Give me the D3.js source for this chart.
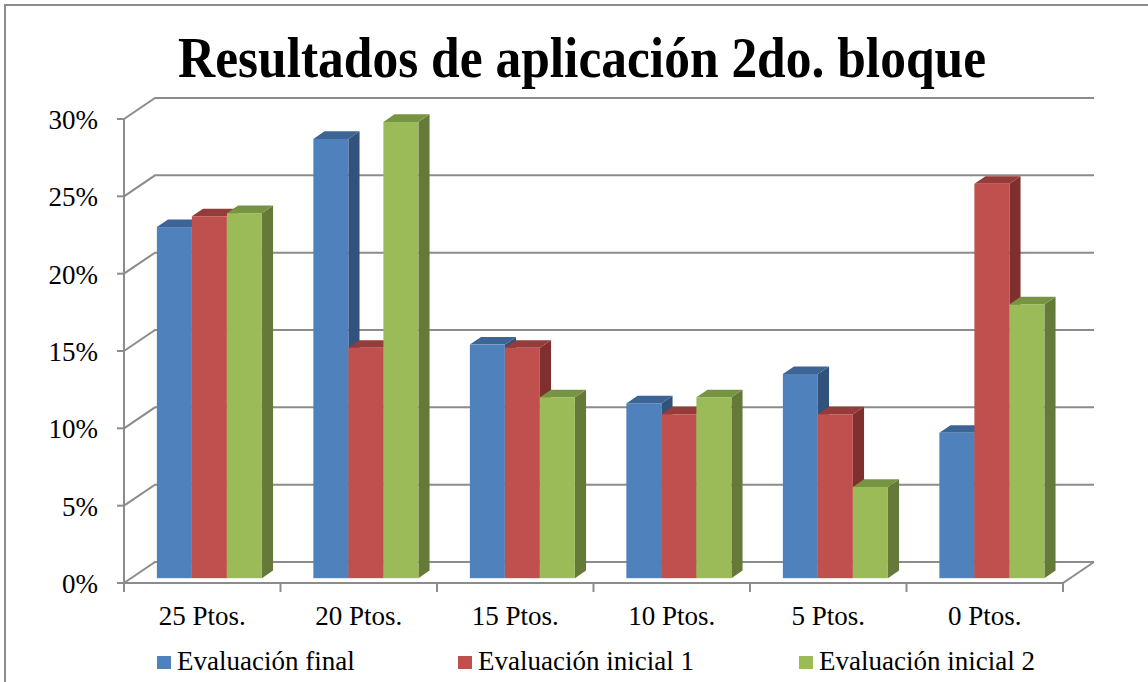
<!DOCTYPE html>
<html>
<head>
<meta charset="utf-8">
<script src="https://cdn.jsdelivr.net/npm/d3@7"></script>
<style>
  body { margin: 0; background: #fff; }
  svg text { font-family: "Liberation Serif", "Times New Roman", serif; fill: #000; }
</style>
</head>
<body>
<svg id="chart" width="1148" height="682"></svg>
<script>
// data
var categories = ["25 Ptos.", "20 Ptos.", "15 Ptos.", "10 Ptos.", "5 Ptos.", "0 Ptos."];
var seriesNames = ["Evaluación final", "Evaluación inicial 1", "Evaluación inicial 2"];
var evalFinal = [0.227, 0.284, 0.151, 0.113, 0.132, 0.094];
var evalInicial1 = [0.234, 0.149, 0.149, 0.106, 0.106, 0.255];
var evalInicial2 = [0.236, 0.295, 0.117, 0.117, 0.059, 0.177];
var yTicks = [0, 0.05, 0.10, 0.15, 0.20, 0.25, 0.30];

var series = [evalFinal, evalInicial1, evalInicial2];
var frontCol = ["#4f81bd", "#c0504d", "#9bbb59"],
  topCol = ["#3c6494", "#953b39", "#779443"],
  sideCol = ["#32527c", "#7e2f2e", "#657a39"];

var svg = d3.select("#chart");

// 3d depth vector (front plane -> back wall)
var DX = 31, DY = -21;
var z0 = 0.23, zd = 0.36;

var x = d3.scaleBand().domain(categories).range([124, 1063]).paddingInner(0).paddingOuter(0);
var xs = d3.scaleBand().domain(d3.range(3)).range([0, x.bandwidth()]).paddingInner(0).paddingOuter(0.735);
var y = d3.scaleLinear().domain([0, 0.30]).range([583, 119]);

var grid = "#8c8c8c";

// frame
svg.append("path").attr("d", "M5,682V5H1148").attr("fill", "none").attr("stroke", grid).attr("stroke-width", 2);

// title
svg.append("text")
  .attr("x", 582).attr("y", 77)
  .attr("text-anchor", "middle")
  .attr("font-size", 58).attr("font-weight", "bold")
  .attr("textLength", 808).attr("lengthAdjust", "spacingAndGlyphs")
  .text("Resultados de aplicación 2do. bloque");

// gridlines: back wall + left wall obliques
var g = svg.append("g").attr("stroke", grid).attr("stroke-width", 2).attr("fill", "none");
yTicks.forEach(function (t) {
  g.append("path").attr("d",
    "M" + x.range()[0] + "," + y(t) +
    "L" + (x.range()[0] + DX) + "," + (y(t) + DY) +
    "H" + (x.range()[1] + DX));
  g.append("line").attr("x1", 117).attr("x2", 124).attr("y1", y(t)).attr("y2", y(t));
});
// front axis line and floor
g.append("line").attr("x1", 124).attr("x2", 124).attr("y1", y(0.30)).attr("y2", y(0));
g.append("path").attr("d",
  "M" + x.range()[0] + "," + y(0) + "H" + x.range()[1] +
  "L" + (x.range()[1] + DX) + "," + (y(0) + DY));
var edges = categories.map(function (c) { return x(c); }).concat([x.range()[1]]);
edges.forEach(function (e) {
  g.append("line").attr("x1", e).attr("x2", e).attr("y1", y(0)).attr("y2", y(0) + 9);
});

// bars
var ox = z0 * DX, oy = z0 * DY, dx = zd * DX, dy = zd * DY;
categories.forEach(function (c, ci) {
  series.forEach(function (s, si) {
    var x0 = x(c) + xs(si) + ox, x1 = x0 + xs.bandwidth();
    var yt = y(s[ci]) + oy, yb = y(0) + oy;
    var b = svg.append("g");
    b.append("path").attr("fill", sideCol[si]).attr("d",
      "M" + x1 + "," + yt + "L" + (x1 + dx) + "," + (yt + dy) +
      "L" + (x1 + dx) + "," + (yb + dy) + "L" + x1 + "," + yb + "Z");
    b.append("path").attr("fill", topCol[si]).attr("d",
      "M" + x0 + "," + yt + "L" + (x0 + dx) + "," + (yt + dy) +
      "L" + (x1 + dx) + "," + (yt + dy) + "L" + x1 + "," + yt + "Z");
    b.append("rect").attr("fill", frontCol[si])
      .attr("x", x0).attr("y", yt).attr("width", x1 - x0).attr("height", yb - yt);
  });
});

// y labels
svg.append("g").selectAll("text").data(yTicks).join("text")
  .attr("x", 98).attr("y", function (d) { return y(d) + 10; })
  .attr("text-anchor", "end").attr("font-size", 27)
  .text(function (d) { return Math.round(d * 100) + "%"; });

// category labels
svg.append("g").selectAll("text").data(categories).join("text")
  .attr("x", function (d) { return x(d) + x.bandwidth() / 2; })
  .attr("y", 625)
  .attr("text-anchor", "middle").attr("font-size", 27)
  .text(function (d) { return d; });

// legend
var legendX = [157, 458, 799];
var lg = svg.append("g");
seriesNames.forEach(function (n, i) {
  lg.append("rect").attr("x", legendX[i]).attr("y", 656).attr("width", 14).attr("height", 13).attr("fill", frontCol[i]);
  lg.append("text").attr("x", legendX[i] + 20).attr("y", 670).attr("font-size", 27).text(n);
});
</script>
</body>
</html>
